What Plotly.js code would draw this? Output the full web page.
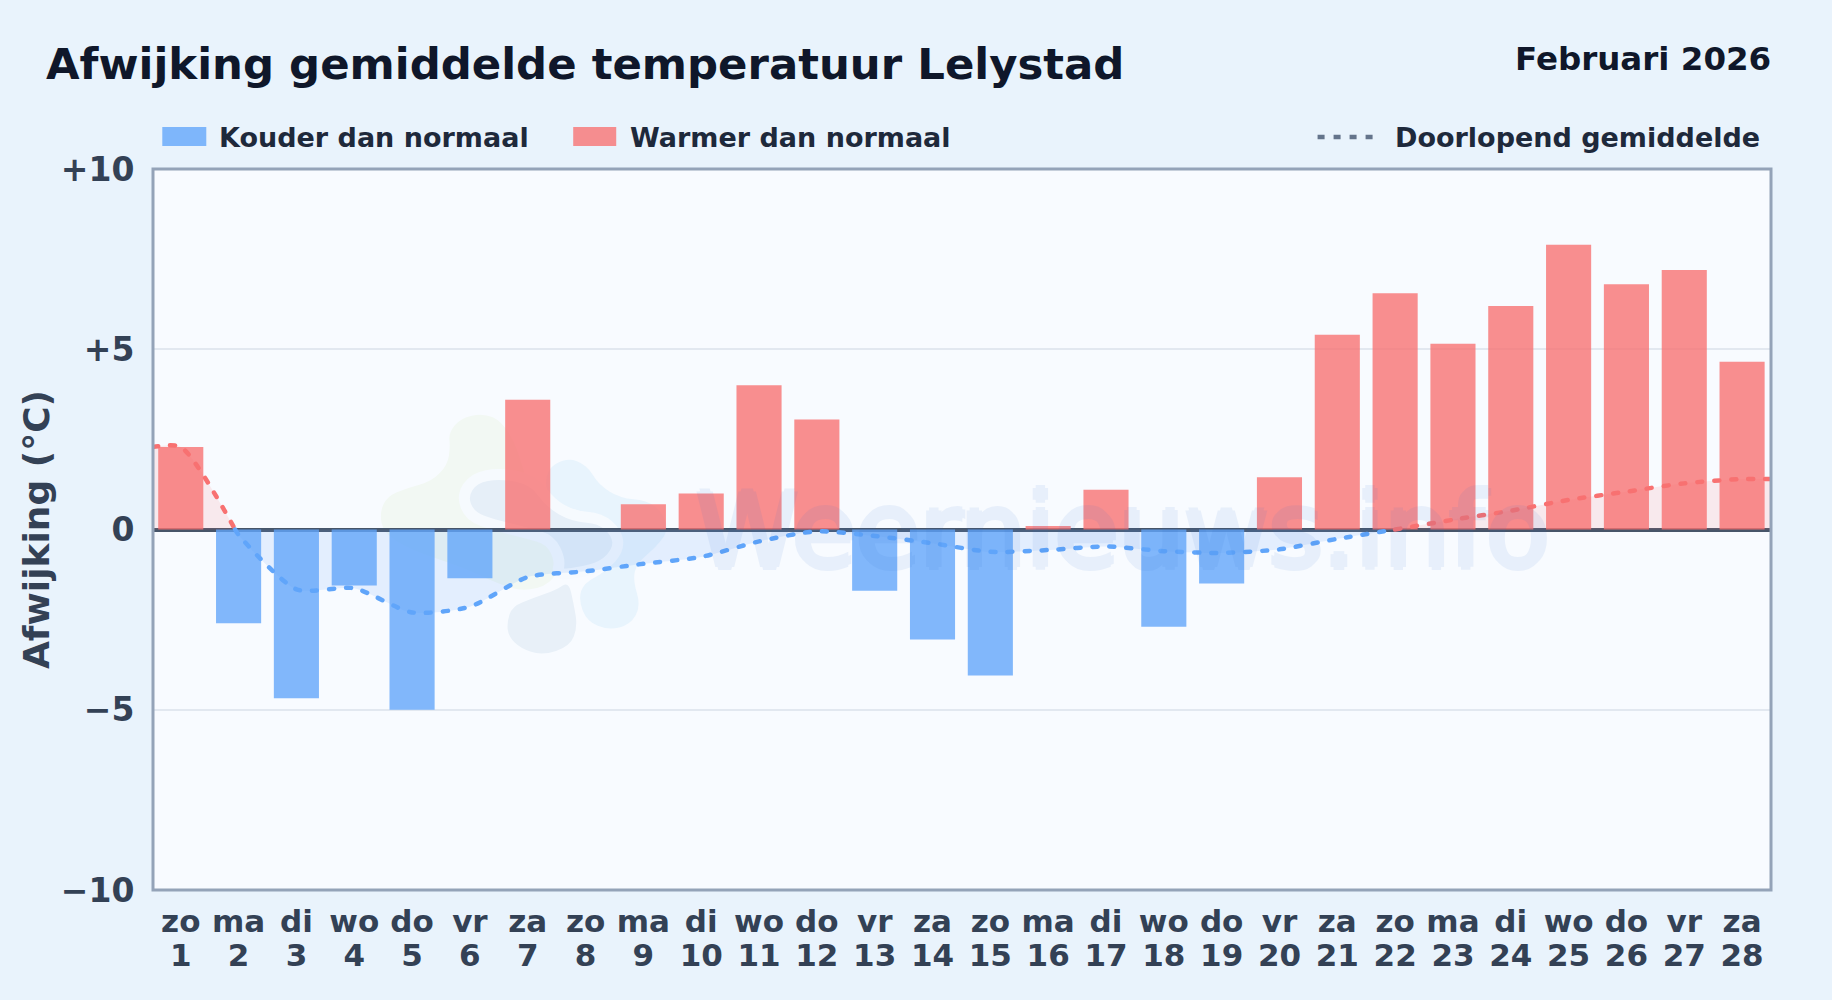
<!DOCTYPE html>
<html><head><meta charset="utf-8">
<script src="https://cdn.plot.ly/plotly-3.0.0.min.js"></script>
<style>
html,body{margin:0;padding:0;width:1832px;height:1000px;overflow:hidden;background:#e9f3fc}
.js-line{stroke-linecap:round !important}
</style></head><body><div id="chart" style="width:1832px;height:1000px"></div>
<script>
const weekdays=['zo','ma','di','wo','do','vr','za','zo','ma','di','wo','do','vr','za','zo','ma','di','wo','do','vr','za','zo','ma','di','wo','do','vr','za'];
const dayNumbers=['1','2','3','4','5','6','7','8','9','10','11','12','13','14','15','16','17','18','19','20','21','22','23','24','25','26','27','28'];
const anomalies=[2.29,-2.6,-4.68,-1.55,-5.0,-1.35,3.6,0,0.7,1.0,4.0,3.05,-1.7,-3.05,-4.05,0.1,1.1,-2.7,-1.5,1.45,5.4,6.55,5.15,6.2,7.9,6.8,7.2,4.65];
const meanPositions=[-0.48,0,0.94,1,2,3,4,5,6,7,8,9,10,11,12,13,14,15,16,17,18,19,20,21,22,23,24,25,26,27,27.5];
const meanValues=[2.29,2.29,0,-0.15,-1.66,-1.63,-2.3,-2.14,-1.32,-1.16,-0.95,-0.76,-0.33,-0.05,-0.18,-0.38,-0.62,-0.57,-0.47,-0.6,-0.65,-0.55,-0.26,0,0.27,0.52,0.82,1.05,1.28,1.4,1.4];
const yTicks=[-10,-5,0,5,10];
const yTickLabels=['−10','−5','0','+5','+10'];
const COLD='#60a5fa',WARM='#f87171',BORDER='#94a3b8';
const F='"DejaVu Sans"';
const days=weekdays.map((_,i)=>i);
const W=1832,H=1000,L=152.7,R=1771,T=169,B=890.5;
const px=x=>(x-L)/(R-L), py=y=>(B-y)/(B-T);
function bar(cond,color){return {type:'bar',x:days,y:anomalies.map(v=>cond(v)?v:null),marker:{color,opacity:0.79,line:{width:0}},showlegend:false,hoverinfo:'skip'};}
const traces=[bar(v=>v<0,COLD),bar(v=>v>=0,WARM)];
function seg(a,b,color,fill){return {type:'scatter',mode:'lines',x:meanPositions.slice(a,b),y:meanValues.slice(a,b),line:{color,width:4.5,dash:'5px,12px',shape:'spline',smoothing:0.7},fill:'tozeroy',fillcolor:fill,showlegend:false,hoverinfo:'skip'};}
traces.push(seg(0,3,WARM,'rgba(248,113,113,0.13)'));
traces.push(seg(2,24,COLD,'rgba(96,165,250,0.14)'));
traces.push(seg(23,31,WARM,'rgba(248,113,113,0.13)'));
traces.push({type:'scatter',mode:'none',x:[0],y:[0],xaxis:'x2',showlegend:false,hoverinfo:'skip'});
// decorative logo watermark, given in picture pixels of a 3x crop
function blob(pts){
  const P=pts.map(p=>[360+p[0]/3,390+p[1]/3]);
  const n=P.length;let d='';
  for(let i=0;i<n;i++){const a=P[i],b=P[(i+1)%n],m=[(a[0]+b[0])/2,(a[1]+b[1])/2];
    if(i===0){const z=P[n-1];d+='M'+px((z[0]+a[0])/2)+','+py((z[1]+a[1])/2)+' ';}
    d+='Q'+px(a[0])+','+py(a[1])+' '+px(m[0])+','+py(m[1])+' ';}
  return d+'Z';
}
const logoGreen=[[265,130],[300,85],[370,70],[425,95],[470,170],[500,280],[560,400],[610,510],[570,585],[490,605],[420,585],[300,530],[150,480],[70,430],[58,370],[80,320],[140,295],[215,275],[262,225],[270,170]];
const logoSky=[[555,240],[620,203],[680,225],[715,285],[780,325],[860,332],[905,365],[925,420],[890,470],[830,520],[818,570],[842,650],[810,705],[745,722],[680,695],[655,630],[670,580],[740,545],[780,480],[760,410],[690,370],[600,350],[560,330]];
const logoCore=[[305,320],[340,265],[420,250],[520,270],[570,340],[640,380],[720,385],[770,430],[775,480],[730,530],[650,550],[590,555],[600,510],[570,450],[500,430],[400,405],[330,380]];
const logoLow=[[440,700],[455,650],[520,625],[590,600],[625,575],[640,640],[652,710],[630,770],[545,798],[480,775],[445,740]];
const shp=(pts,fill)=>({type:'path',xref:'paper',yref:'paper',layer:'below',path:blob(pts),fillcolor:fill,line:{width:0}});
const coreRing={type:'path',xref:'paper',yref:'paper',layer:'below',path:blob(logoCore),fillcolor:'#e6eff8',line:{color:'#f6fafe',width:11}};
const shapes=[shp(logoGreen,'#f2f8f3'),shp(logoSky,'#e8f4fd'),coreRing,shp(logoLow,'#e8f0f8'),
 {type:'rect',xref:'paper',yref:'paper',x0:0,x1:1,y0:0,y1:1,layer:'above',fillcolor:'rgba(0,0,0,0)',line:{color:BORDER,width:3}},
 {type:'rect',xref:'paper',yref:'paper',x0:px(162),x1:px(206),y0:py(146),y1:py(127),fillcolor:COLD,opacity:0.79,line:{width:0}},
 {type:'rect',xref:'paper',yref:'paper',x0:px(573),x1:px(616),y0:py(146),y1:py(127),fillcolor:WARM,opacity:0.79,line:{width:0}},
 {type:'line',xref:'paper',yref:'paper',x0:px(1317.5),x1:px(1374),y0:py(137),y1:py(137),line:{color:'#64748b',width:4.5,dash:'7px,9px'}}];
const ann=(text,x,y,size,color,anchor)=>({text,xref:'paper',yref:'paper',x:px(x),y:py(y),xanchor:anchor||'left',yanchor:'middle',showarrow:false,font:{family:F,size,color,weight:700}});
const wmShadow='3px 0 0 #2f6fd0,-3px 0 0 #2f6fd0,0 3px 0 #2f6fd0,0 -3px 0 #2f6fd0';
const annotations=[
 {text:'Weernieuws.info',xref:'paper',yref:'paper',x:px(694),y:py(531),xanchor:'left',yanchor:'middle',showarrow:false,opacity:0.08,font:{family:F,size:103.5,color:'#2f6fd0',shadow:wmShadow}},
 ann('Februari 2026',1773,59,32.5,'#0f172a','right'),
 ann('Kouder dan normaal',217,137,27,'#1e293b'),
 ann('Warmer dan normaal',628,137,27,'#1e293b'),
 ann('Doorlopend gemiddelde',1393,137,27,'#1e293b')
];
const tickFont={family:F,size:31,color:'#334155',weight:700};
const layout={width:W,height:H,paper_bgcolor:'rgba(0,0,0,0)',plot_bgcolor:'#f8fbff',font:{family:F},
 margin:{l:L,r:W-R,t:T,b:H-B,pad:0},barmode:'overlay',bargap:0.22,
 title:{text:'Afwijking gemiddelde temperatuur Lelystad',xref:'container',yref:'container',x:46/W,xanchor:'left',y:1-64/H,yanchor:'middle',font:{family:F,size:43.4,color:'#0f172a',weight:700}},
 xaxis:{range:[-0.48,27.5],tickvals:days,ticktext:dayNumbers,tickangle:0,ticks:'outside',ticklen:38,tickcolor:'rgba(0,0,0,0)',showgrid:false,zeroline:false,showline:false,tickfont:tickFont},
 xaxis2:{range:[-0.48,27.5],overlaying:'x',side:'bottom',anchor:'y',tickvals:days,ticktext:weekdays,tickangle:0,ticks:'outside',ticklen:4,tickcolor:'rgba(0,0,0,0)',showgrid:false,zeroline:false,showline:false,tickfont:tickFont},
 yaxis:{range:[-10,10],tickvals:yTicks,ticktext:yTickLabels,ticks:'outside',ticklen:11,tickcolor:'rgba(0,0,0,0)',showgrid:true,gridcolor:'#e2e8f0',gridwidth:2,zeroline:true,zerolinecolor:'#475569',zerolinewidth:4,showline:false,tickfont:{family:F,size:33,color:'#334155',weight:700},
  title:{text:'Afwijking (°C)',standoff:0,font:{family:F,size:36,color:'#334155',weight:700}}},
 shapes,annotations,showlegend:false};
Plotly.newPlot('chart',traces,layout,{displayModeBar:false,responsive:false,staticPlot:true});
</script></body></html>
